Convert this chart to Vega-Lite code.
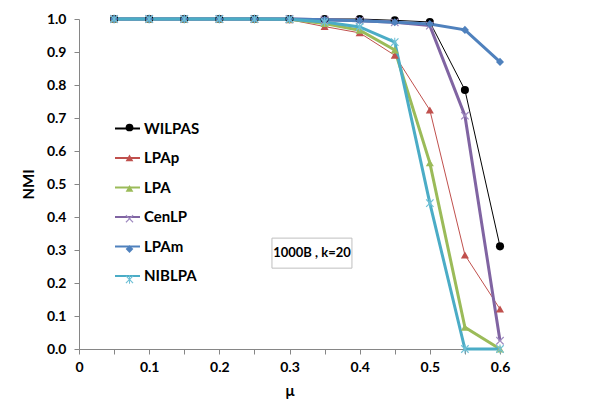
{
  "$schema": "https://vega.github.io/schema/vega-lite/v6.json",
  "width": 421,
  "height": 330,
  "autosize": "none",
  "padding": {"left": 79, "top": 19, "right": 104, "bottom": 57},
  "background": "white",
  "config": {
    "view": {"stroke": null},
    "font": "Lato",
    "axis": {
      "domainColor": "#868686",
      "tickColor": "#868686",
      "labelColor": "#000000",
      "labelFont": "Lato",
      "labelFontWeight": "bold",
      "labelFontSize": 14,
      "titleFont": "Lato",
      "titleFontWeight": "bold",
      "titleFontSize": 15,
      "titleColor": "#000000",
      "grid": false,
      "tickSize": 5
    },
    "axisX": {
      "values": [0, 0.05, 0.1, 0.15, 0.2, 0.25, 0.3, 0.35, 0.4, 0.45, 0.5, 0.55, 0.6],
      "labelExpr": "round(datum.value*100) % 10 != 0 ? '' : (datum.value == 0 ? '0' : format(datum.value, '.1f'))",
      "labelPadding": 6,
      "titlePadding": 9,
      "labelFlush": false,
      "labelOverlap": false
    },
    "axisY": {
      "values": [0, 0.1, 0.2, 0.3, 0.4, 0.5, 0.6, 0.7, 0.8, 0.9, 1.0],
      "format": ".1f",
      "labelPadding": 8,
      "titlePadding": 10,
      "labelFlush": false,
      "labelOverlap": false
    },
    "legend": {
      "labelFont": "Lato",
      "labelFontWeight": "bold",
      "labelFontSize": 15,
      "labelColor": "#000000",
      "padding": 0
    }
  },
  "datasets": {
    "box": [{"x1": 0.275, "x2": 0.389, "y1": 0.245, "y2": 0.336, "xc": 0.332, "yc": 0.29, "label": "1000B , k=20"}]
  },
  "data": {
    "values": [
      {"series": "WILPAS", "mu": 0.05, "nmi": 1.0},
      {"series": "WILPAS", "mu": 0.1, "nmi": 1.0},
      {"series": "WILPAS", "mu": 0.15, "nmi": 1.0},
      {"series": "WILPAS", "mu": 0.2, "nmi": 1.0},
      {"series": "WILPAS", "mu": 0.25, "nmi": 1.0},
      {"series": "WILPAS", "mu": 0.3, "nmi": 1.0},
      {"series": "WILPAS", "mu": 0.35, "nmi": 1.0},
      {"series": "WILPAS", "mu": 0.4, "nmi": 1.0},
      {"series": "WILPAS", "mu": 0.45, "nmi": 0.996},
      {"series": "WILPAS", "mu": 0.5, "nmi": 0.991},
      {"series": "WILPAS", "mu": 0.55, "nmi": 0.785},
      {"series": "WILPAS", "mu": 0.6, "nmi": 0.311},
      {"series": "LPAp", "mu": 0.05, "nmi": 1.0},
      {"series": "LPAp", "mu": 0.1, "nmi": 1.0},
      {"series": "LPAp", "mu": 0.15, "nmi": 1.0},
      {"series": "LPAp", "mu": 0.2, "nmi": 1.0},
      {"series": "LPAp", "mu": 0.25, "nmi": 1.0},
      {"series": "LPAp", "mu": 0.3, "nmi": 0.998},
      {"series": "LPAp", "mu": 0.35, "nmi": 0.977},
      {"series": "LPAp", "mu": 0.4, "nmi": 0.958},
      {"series": "LPAp", "mu": 0.45, "nmi": 0.89},
      {"series": "LPAp", "mu": 0.5, "nmi": 0.724},
      {"series": "LPAp", "mu": 0.55, "nmi": 0.285},
      {"series": "LPAp", "mu": 0.6, "nmi": 0.121},
      {"series": "LPA", "mu": 0.05, "nmi": 1.0},
      {"series": "LPA", "mu": 0.1, "nmi": 1.0},
      {"series": "LPA", "mu": 0.15, "nmi": 1.0},
      {"series": "LPA", "mu": 0.2, "nmi": 1.0},
      {"series": "LPA", "mu": 0.25, "nmi": 1.0},
      {"series": "LPA", "mu": 0.3, "nmi": 0.999},
      {"series": "LPA", "mu": 0.35, "nmi": 0.986},
      {"series": "LPA", "mu": 0.4, "nmi": 0.966},
      {"series": "LPA", "mu": 0.45, "nmi": 0.906},
      {"series": "LPA", "mu": 0.5, "nmi": 0.564},
      {"series": "LPA", "mu": 0.55, "nmi": 0.066},
      {"series": "LPA", "mu": 0.6, "nmi": 0.0},
      {"series": "CenLP", "mu": 0.05, "nmi": 1.0},
      {"series": "CenLP", "mu": 0.1, "nmi": 1.0},
      {"series": "CenLP", "mu": 0.15, "nmi": 1.0},
      {"series": "CenLP", "mu": 0.2, "nmi": 1.0},
      {"series": "CenLP", "mu": 0.25, "nmi": 1.0},
      {"series": "CenLP", "mu": 0.3, "nmi": 1.0},
      {"series": "CenLP", "mu": 0.35, "nmi": 0.998},
      {"series": "CenLP", "mu": 0.4, "nmi": 0.995},
      {"series": "CenLP", "mu": 0.45, "nmi": 0.99},
      {"series": "CenLP", "mu": 0.5, "nmi": 0.98},
      {"series": "CenLP", "mu": 0.55, "nmi": 0.707},
      {"series": "CenLP", "mu": 0.6, "nmi": 0.025},
      {"series": "LPAm", "mu": 0.05, "nmi": 1.0},
      {"series": "LPAm", "mu": 0.1, "nmi": 1.0},
      {"series": "LPAm", "mu": 0.15, "nmi": 1.0},
      {"series": "LPAm", "mu": 0.2, "nmi": 1.0},
      {"series": "LPAm", "mu": 0.25, "nmi": 1.0},
      {"series": "LPAm", "mu": 0.3, "nmi": 1.0},
      {"series": "LPAm", "mu": 0.35, "nmi": 0.998},
      {"series": "LPAm", "mu": 0.4, "nmi": 0.995},
      {"series": "LPAm", "mu": 0.45, "nmi": 0.99},
      {"series": "LPAm", "mu": 0.5, "nmi": 0.985},
      {"series": "LPAm", "mu": 0.55, "nmi": 0.967},
      {"series": "LPAm", "mu": 0.6, "nmi": 0.87},
      {"series": "NIBLPA", "mu": 0.05, "nmi": 1.0},
      {"series": "NIBLPA", "mu": 0.1, "nmi": 1.0},
      {"series": "NIBLPA", "mu": 0.15, "nmi": 1.0},
      {"series": "NIBLPA", "mu": 0.2, "nmi": 1.0},
      {"series": "NIBLPA", "mu": 0.25, "nmi": 1.0},
      {"series": "NIBLPA", "mu": 0.3, "nmi": 0.999},
      {"series": "NIBLPA", "mu": 0.35, "nmi": 0.991},
      {"series": "NIBLPA", "mu": 0.4, "nmi": 0.976},
      {"series": "NIBLPA", "mu": 0.45, "nmi": 0.93},
      {"series": "NIBLPA", "mu": 0.5, "nmi": 0.442},
      {"series": "NIBLPA", "mu": 0.55, "nmi": 0.0},
      {"series": "NIBLPA", "mu": 0.6, "nmi": 0.0}
    ]
  },
  "layer": [
    {
      "mark": {"type": "line", "clip": false},
      "encoding": {
        "x": {
          "field": "mu", "type": "quantitative",
          "scale": {"domain": [0, 0.6], "nice": false, "zero": false},
          "title": "μ"
        },
        "y": {
          "field": "nmi", "type": "quantitative",
          "scale": {"domain": [0, 1], "nice": false},
          "title": "NMI"
        },
        "color": {
          "field": "series", "type": "nominal", "sort": null,
          "scale": {
            "domain": ["WILPAS", "LPAp", "LPA", "CenLP", "LPAm", "NIBLPA"],
            "range": ["#000000", "#C0504D", "#9BBB59", "#8064A2", "#4F81BD", "#4BACC6"]
          },
          "legend": {
            "title": null,
            "orient": "none",
            "legendX": 35,
            "legendY": 96,
            "symbolType": "stroke",
            "symbolSize": 625,
            "symbolStrokeWidth": 2,
            "labelOffset": 3,
            "rowPadding": 7.5
          }
        },
        "strokeWidth": {
          "condition": {"test": "datum.series == 'WILPAS' || datum.series == 'LPAp'", "value": 1},
          "value": 3
        }
      }
    },
    {
      "mark": {"type": "point", "filled": true, "opacity": 1, "size": 65, "strokeWidth": 0, "clip": false},
      "encoding": {
        "x": {"field": "mu", "type": "quantitative", "title": "μ"},
        "y": {"field": "nmi", "type": "quantitative", "title": "NMI"},
        "color": {
          "field": "series", "type": "nominal", "sort": null,
          "scale": {
            "domain": ["WILPAS", "LPAp", "LPA", "CenLP", "LPAm", "NIBLPA"],
            "range": ["#000000", "#C0504D", "#9BBB59", "#9F8AC0", "#4F81BD", "#6FC0D6"]
          },
          "legend": {
            "title": null,
            "orient": "none",
            "legendX": 43,
            "legendY": 101,
            "symbolSize": 60,
            "symbolStrokeWidth": 0,
            "labelOffset": 21,
            "labelExpr": "''",
            "rowPadding": 14.4
          }
        },
        "shape": {
          "field": "series", "type": "nominal", "sort": null,
          "scale": {
            "domain": ["WILPAS", "LPAp", "LPA", "CenLP", "LPAm", "NIBLPA"],
            "range": [
              "circle",
              "triangle-up",
              "triangle-up",
              "M1.025,-0.813L0.212,0L1.025,0.813L0.813,1.025L0,0.212L-0.813,1.025L-1.025,0.813L-0.212,0L-1.025,-0.813L-0.813,-1.025L0,-0.212L0.813,-1.025Z",
              "diamond",
              "M1.025,-0.813L0.212,0L1.025,0.813L0.813,1.025L0,0.212L-0.813,1.025L-1.025,0.813L-0.212,0L-1.025,-0.813L-0.813,-1.025L0,-0.212L0.813,-1.025Z M-0.13,-1.1L0.13,-1.1L0.13,1.1L-0.13,1.1Z"
            ]
          }
        }
      }
    },
    {
      "data": {"name": "box"},
      "mark": {"type": "rect", "fill": "white", "stroke": "#BFBFBF", "strokeWidth": 1},
      "encoding": {
        "x": {"field": "x1", "type": "quantitative", "title": "μ"},
        "x2": {"field": "x2"},
        "y": {"field": "y1", "type": "quantitative", "title": "NMI"},
        "y2": {"field": "y2"}
      }
    },
    {
      "data": {"name": "box"},
      "mark": {"type": "text", "font": "Lato", "fontWeight": "bold", "fontSize": 13, "color": "#000000", "align": "center", "baseline": "middle"},
      "encoding": {
        "x": {"field": "xc", "type": "quantitative", "title": "μ"},
        "y": {"field": "yc", "type": "quantitative", "title": "NMI"},
        "text": {"field": "label"}
      }
    }
  ],
  "resolve": {"scale": {"color": "independent", "shape": "independent"}}
}
